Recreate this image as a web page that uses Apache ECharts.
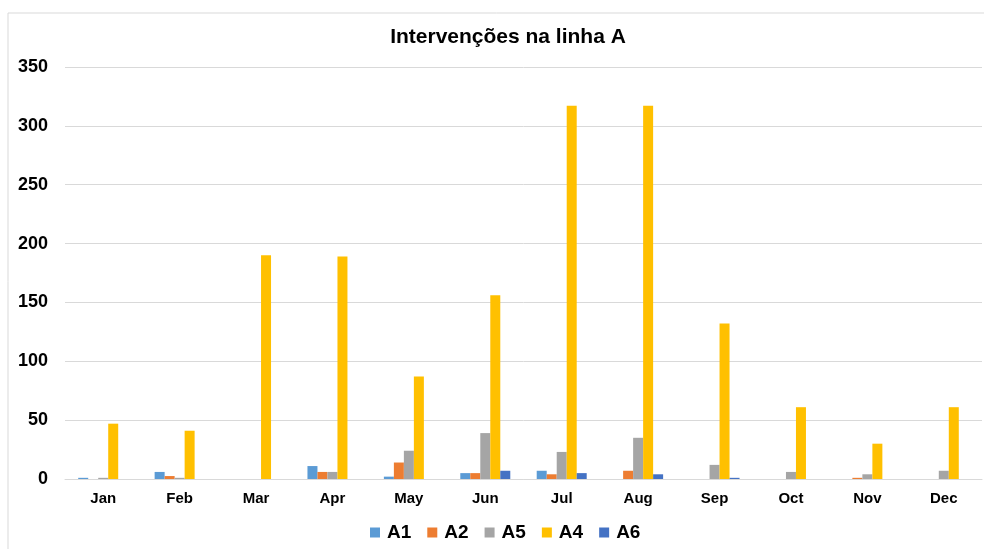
<!DOCTYPE html>
<html>
<head>
<meta charset="utf-8">
<script src="https://cdn.jsdelivr.net/npm/echarts@6/dist/echarts.min.js"></script>
<style>
  html, body { margin: 0; padding: 0; background: #fff; }
  #chart { width: 984px; height: 549px; }
</style>
</head>
<body>
<div id="chart"></div>
<script>
// months on the x axis
var months = ['Jan', 'Feb', 'Mar', 'Apr', 'May', 'Jun', 'Jul', 'Aug', 'Sep', 'Oct', 'Nov', 'Dec'];

// interventions per line
var a1 = [1, 6, 0, 11, 2, 5, 7, 0, 0, 0, 0, 0];
var a2 = [0, 2.5, 0, 6, 14, 5, 4, 7, 0, 0, 1, 0];
var a5 = [1, 1, 0, 6, 24, 39, 23, 35, 12, 6, 4, 7];
var a4 = [47, 41, 190, 189, 87, 156, 317, 317, 132, 61, 30, 61];
var a6 = [0, 0, 0, 0, 0, 7, 5, 4, 1, 0, 0, 0];

var seriesNames = ['A1', 'A2', 'A5', 'A4', 'A6'];
var seriesData = [a1, a2, a5, a4, a6];
var colors = ['#5B9BD5', '#ED7D31', '#A5A5A5', '#FFC000', '#4472C4'];

var series = [];
for (var i = 0; i < seriesNames.length; i++) {
  series.push({
    name: seriesNames[i],
    type: 'bar',
    data: seriesData[i],
    barWidth: 10,
    barGap: '0%',
    itemStyle: { color: colors[i] }
  });
}

var chart = echarts.init(document.getElementById('chart'));
chart.setOption({
  animation: false,
  textStyle: { fontFamily: 'Liberation Sans, Arial, sans-serif' },
  graphic: [{
    type: 'rect',
    shape: { x: 8, y: 13, width: 990, height: 560 },
    style: { fill: 'none', stroke: '#d9d9d9', lineWidth: 1 },
    silent: true
  }],
  title: {
    text: 'Intervenções na linha A',
    left: 503,
    textAlign: 'center',
    top: 22,
    textStyle: { fontSize: 21, fontWeight: 'bold', color: '#000' }
  },
  legend: {
    data: seriesNames,
    bottom: 2,
    left: 365,
    itemWidth: 10,
    itemHeight: 10,
    itemGap: 16,
    icon: 'rect',
    textStyle: { fontSize: 19, fontWeight: 'bold', color: '#000', padding: [0, 0, 0, 2] }
  },
  grid: { left: 65, right: 2, top: 67, bottom: 70 },
  xAxis: {
    type: 'category',
    data: months,
    axisTick: { show: false },
    axisLine: { lineStyle: { color: '#d9d9d9' } },
    axisLabel: { fontSize: 15, fontWeight: 'bold', color: '#000', margin: 12 }
  },
  yAxis: {
    type: 'value',
    min: 0,
    max: 350,
    interval: 50,
    axisLine: { show: false },
    axisTick: { show: false },
    splitLine: { lineStyle: { color: '#d9d9d9' } },
    axisLabel: { fontSize: 18, fontWeight: 'bold', color: '#000', margin: 17 }
  },
  series: series
});
</script>
</body>
</html>
